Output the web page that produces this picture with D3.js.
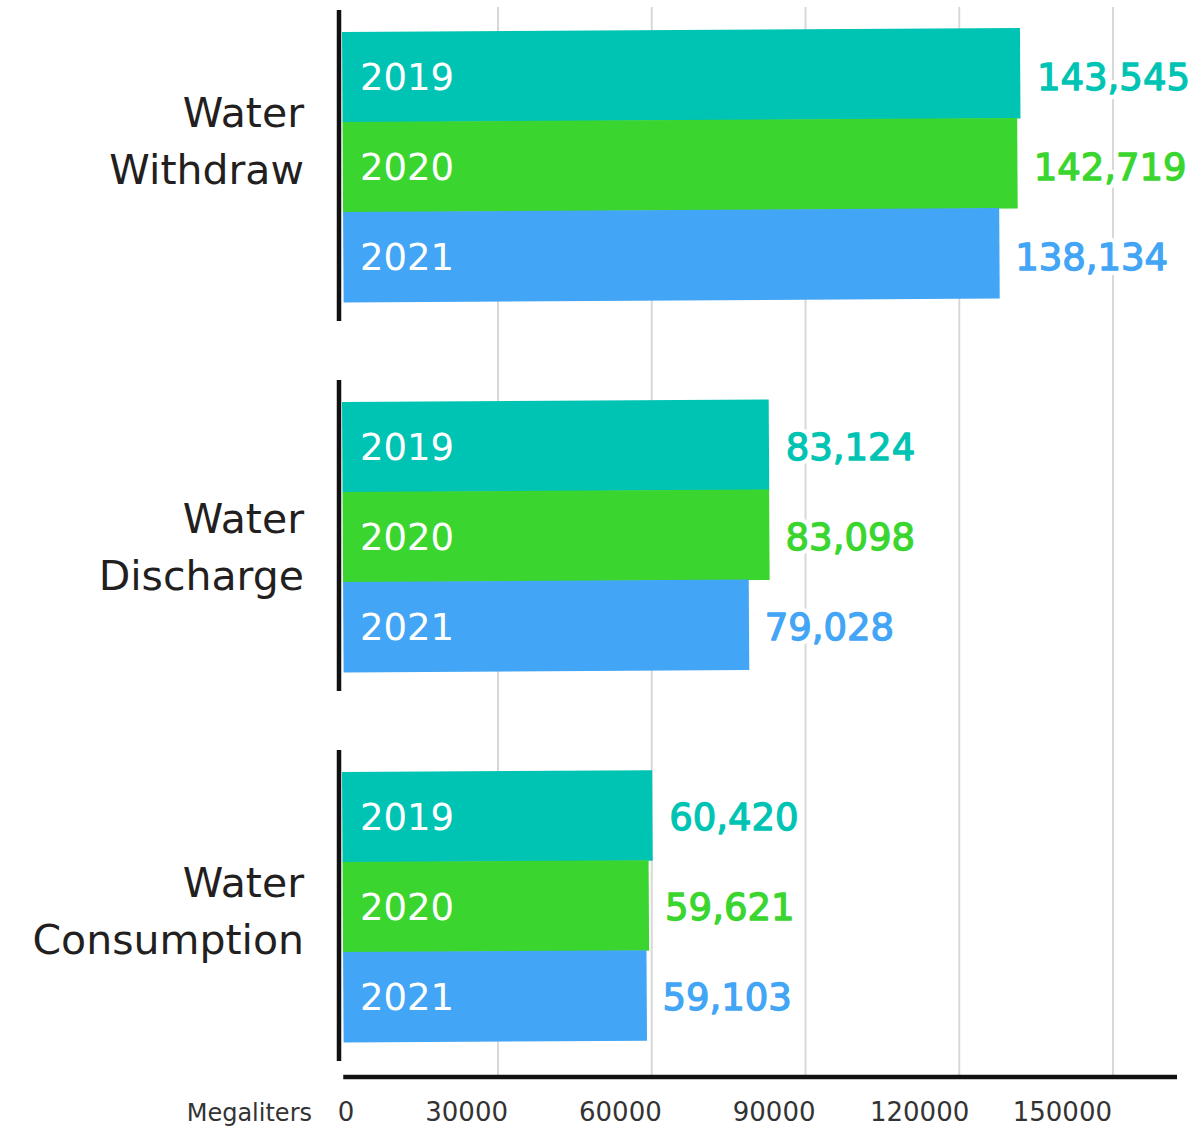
<!DOCTYPE html>
<meta charset="utf-8">
<title>Water Withdraw, Discharge and Consumption</title>
<style>
body { margin: 0; background: #fff; }
text { font-family: "DejaVu Sans", sans-serif; }
</style>
<body>
<div id="chart"></div>
<script src="https://cdn.jsdelivr.net/npm/d3@7"></script>
<script>
  // values (megaliters)
  var categories = ["Water Withdraw", "Water Discharge", "Water Consumption"];
  var years = ["2019", "2020", "2021"];
  var withdraw = [143545, 142719, 138134];
  var discharge = [83124, 83098, 79028];
  var consumption = [60420, 59621, 59103];
  var ticks = [0, 30000, 60000, 90000, 120000, 150000];
  var unitLabel = "Megaliters";

  var series = [withdraw, discharge, consumption];
  var colors = ["#00c4b3", "#3ad62f", "#42a5f5"];

  var width = 1196, height = 1128;

  var svg = d3.select("#chart").append("svg")
      .attr("width", width)
      .attr("height", height);

  // axis scale (ticks + gridlines)
  var x = d3.scaleLinear().domain([0, 150000]).range([344.25, 1113]);
  // the bars in the original are squeezed above 90000 so the big labels fit
  var barX = d3.scaleLinear().domain([0, 90000, 150000]).range([342, 804, 1046]);

  var y0 = d3.scaleBand().domain(categories).range([32, 1042]).paddingInner(100 / 370);
  var y1 = d3.scaleBand().domain(years).range([0, y0.bandwidth()]);

  // gridlines
  svg.append("g").selectAll("line")
      .data(ticks.slice(1))
    .enter().append("line")
      .attr("x1", function(d) { return x(d); })
      .attr("x2", function(d) { return x(d); })
      .attr("y1", 7)
      .attr("y2", 1076)
      .attr("stroke", "#d8d8d8")
      .attr("stroke-width", 2);

  var groups = svg.selectAll(".group")
      .data(categories)
    .enter().append("g")
      .attr("class", "group")
      .attr("transform", function(d) { return "translate(0," + y0(d) + ")"; });

  // bars, slightly tilted like the source image
  groups.append("g")
      .attr("transform", "rotate(-0.34," + barX(0) + ",0)")
    .selectAll("rect")
      .data(function(d, i) { return series[i].map(function(v, j) { return {v: v, year: years[j], j: j}; }); })
    .enter().append("rect")
      .attr("x", barX(0))
      .attr("y", function(d) { return y1(d.year); })
      .attr("width", function(d) { return barX(d.v) - barX(0); })
      .attr("height", y1.bandwidth() + 0.5)
      .attr("fill", function(d) { return colors[d.j]; });

  // left black line per group
  groups.append("line")
      .attr("x1", 339).attr("x2", 339)
      .attr("y1", -22).attr("y2", y0.bandwidth() + 19)
      .attr("stroke", "#111")
      .attr("stroke-width", 4.5);

  // year labels inside bars
  groups.selectAll(".year")
      .data(years)
    .enter().append("text")
      .attr("class", "year")
      .attr("x", 360)
      .attr("y", function(d) { return y1(d) + y1.bandwidth() / 2; })
      .attr("dy", "0.36em")
      .attr("fill", "#fff")
      .style("font-size", "37px")
      .text(function(d) { return d; });

  // value labels, with a white knockout behind them
  var fmt = d3.format(",");
  groups.each(function(cat, i) {
    var g = d3.select(this);
    var vals = series[i].map(function(v, j) { return {v: v, year: years[j], j: j}; });
    [true, false].forEach(function(halo) {
      g.selectAll(halo ? ".halo" : ".val")
          .data(vals)
        .enter().append("text")
          .attr("class", halo ? "halo" : "val")
          .attr("x", function(d) { return barX(d.v) + 17; })
          .attr("y", function(d) { return y1(d.year) + y1.bandwidth() / 2; })
          .attr("dy", "0.36em")
          .style("font-size", "37px")
          .attr("fill", function(d) { return halo ? "#fff" : colors[d.j]; })
          .attr("stroke", function(d) { return halo ? "#fff" : colors[d.j]; })
          .attr("stroke-width", halo ? 10 : 1.3)
          .attr("stroke-linejoin", "round")
          .text(function(d) { return fmt(d.v); });
    });
  });

  // category labels, two lines, right aligned
  var labelNudge = [-40, -4, -10];
  groups.append("text")
      .attr("text-anchor", "end")
      .attr("fill", "#231f20")
      .style("font-size", "41px")
      .each(function(d, i) {
        var words = d.split(" ");
        var t = d3.select(this);
        words.forEach(function(w, k) {
          t.append("tspan")
              .attr("x", 304)
              .attr("y", y0.bandwidth() / 2 + labelNudge[i] + k * 57)
              .text(w);
        });
      });

  // bottom axis
  svg.append("line")
      .attr("x1", x(0) - 1).attr("x2", 1177)
      .attr("y1", 1077).attr("y2", 1077)
      .attr("stroke", "#111")
      .attr("stroke-width", 4.5);

  svg.append("g").selectAll("text")
      .data(ticks)
    .enter().append("text")
      .attr("x", function(d) { return Math.min(x(d) + 10, 1112); })
      .attr("y", 1121)
      .attr("text-anchor", "end")
      .attr("fill", "#333")
      .style("font-size", "26px")
      .text(function(d) { return d; });

  svg.append("text")
      .attr("x", 312)
      .attr("y", 1121)
      .attr("text-anchor", "end")
      .attr("fill", "#333")
      .style("font-size", "24px")
      .text(unitLabel);
</script>
</body>
</html>
